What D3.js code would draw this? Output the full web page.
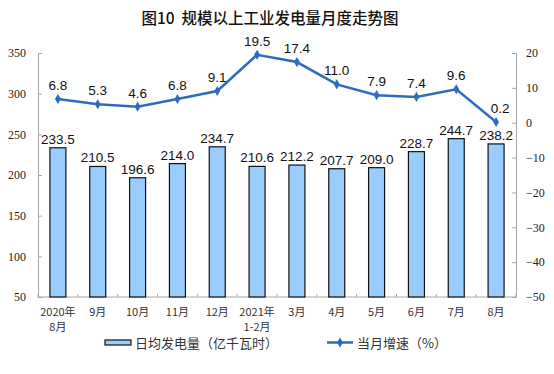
<!DOCTYPE html>
<html><head><meta charset="utf-8">
<script src="https://cdn.jsdelivr.net/npm/d3@7/dist/d3.min.js"></script>
<style>body{margin:0;background:#fff}svg{display:block}</style>
</head><body>
<svg id="c" width="554" height="374"></svg>
<script>
const categories = [["2020年","8月"],["9月"],["10月"],["11月"],["12月"],["2021年","1-2月"],["3月"],["4月"],["5月"],["6月"],["7月"],["8月"]];
const dailyOutput = [233.5,210.5,196.6,214.0,234.7,210.6,212.2,207.7,209.0,228.7,244.7,238.2];
const growth = [6.8,5.3,4.6,6.8,9.1,19.5,17.4,11.0,7.9,7.4,9.6,0.2];
const leftTicks = [50,100,150,200,250,300,350];
const rightTicks = [-50,-40,-30,-20,-10,0,10,20];
const title = "图10  规模以上工业发电量月度走势图";
const legendBar = "日均发电量（亿千瓦时）";
const legendLine = "当月增速（%）";

const svg = d3.select("#c");
const L = 38, R = 516, T = 53, B = 297;
const cjk = "'Noto Sans CJK SC', sans-serif";
const axisColor = "#a6a6a6";
const lineColor = "#2b6cc0";
const barFill = "#99ccff";

const x = d3.scaleBand().domain(d3.range(categories.length)).range([L, R]);
const yL = d3.scaleLinear().domain([50, 350]).range([B, T]);
const yR = d3.scaleLinear().domain([-50, 20]).range([B, T]);

svg.append("text").attr("x", 270).attr("y", 24).attr("text-anchor", "middle")
  .style("white-space", "pre")
  .attr("font-family", cjk).attr("font-size", 15.5).attr("font-weight", 500).attr("fill", "#111").text(title);

// left axis
const gl = svg.append("g").attr("transform", `translate(${L},0)`)
  .call(d3.axisLeft(yL).tickValues(leftTicks).tickSize(-4).tickPadding(12));
gl.select(".domain").attr("stroke", axisColor);
gl.selectAll(".tick line").attr("stroke", axisColor);
gl.selectAll(".tick text").attr("font-family", "'Liberation Serif', serif").attr("font-size", 12).attr("fill", "#222");

// right axis
const gr = svg.append("g").attr("transform", `translate(${R},0)`)
  .call(d3.axisRight(yR).tickValues(rightTicks).tickSize(-4).tickPadding(10));
gr.select(".domain").attr("stroke", axisColor);
gr.selectAll(".tick line").attr("stroke", axisColor);
gr.selectAll(".tick text").attr("font-family", "'Liberation Serif', serif").attr("font-size", 12).attr("fill", "#222");

// bottom axis
svg.append("line").attr("x1", L).attr("x2", R).attr("y1", B).attr("y2", B).attr("stroke", axisColor);
svg.selectAll(".xt").data(d3.range(categories.length + 1)).join("line")
  .attr("x1", i => L + i * x.step()).attr("x2", i => L + i * x.step())
  .attr("y1", B).attr("y2", B - 3).attr("stroke", axisColor);

// category labels
const cl = svg.selectAll(".cl").data(categories).join("text")
  .attr("text-anchor", "middle").attr("font-family", cjk).attr("font-size", 11).attr("fill", "#333");
cl.each(function(d, i) {
  const t = d3.select(this);
  d.forEach((s, k) => t.append("tspan").attr("x", x(i) + x.bandwidth() / 2).attr("y", 316 + k * 15).text(s));
});

// bars
const bw = 16;
svg.selectAll(".bar").data(dailyOutput).join("rect")
  .attr("x", (d, i) => x(i) + x.bandwidth() / 2 - bw / 2).attr("width", bw)
  .attr("y", d => yL(d)).attr("height", d => B - yL(d))
  .attr("fill", barFill).attr("stroke", "#111").attr("stroke-width", 1.2);
svg.selectAll(".bl").data(dailyOutput).join("text")
  .attr("x", (d, i) => x(i) + x.bandwidth() / 2).attr("y", d => yL(d) - 4)
  .attr("text-anchor", "middle").attr("font-family", "'Liberation Sans', Arial, sans-serif")
  .attr("font-size", 13.5).attr("fill", "#111").text(d => d.toFixed(1));

// line
const line = d3.line().x((d, i) => x(i) + x.bandwidth() / 2).y(d => yR(d));
svg.append("path").datum(growth).attr("d", line).attr("fill", "none").attr("stroke", lineColor).attr("stroke-width", 2.5);
const diamond = d3.symbol().type(d3.symbolDiamond).size(30);
svg.selectAll(".pt").data(growth).join("path")
  .attr("transform", (d, i) => `translate(${x(i) + x.bandwidth() / 2},${yR(d)})`)
  .attr("d", diamond).attr("fill", lineColor);
svg.selectAll(".pl").data(growth).join("text")
  .attr("x", (d, i) => x(i) + x.bandwidth() / 2 + (i === growth.length - 1 ? 4 : 0))
  .attr("y", d => yR(d) - 9)
  .attr("text-anchor", "middle").attr("font-family", "'Liberation Sans', Arial, sans-serif")
  .attr("font-size", 13.5).attr("fill", "#111").text(d => d.toFixed(1));

// legend
svg.append("rect").attr("x", 105).attr("y", 340).attr("width", 26).attr("height", 5)
  .attr("fill", barFill).attr("stroke", "#111").attr("stroke-width", 1.2);
svg.append("text").attr("x", 135).attr("y", 347.5).attr("font-family", cjk).attr("font-size", 13).attr("fill", "#333").text(legendBar);
svg.append("line").attr("x1", 327).attr("x2", 353).attr("y1", 342.5).attr("y2", 342.5).attr("stroke", lineColor).attr("stroke-width", 2.5);
svg.append("path").attr("transform", "translate(340,342.5)").attr("d", diamond).attr("fill", lineColor);
svg.append("text").attr("x", 357).attr("y", 347.5).attr("font-family", cjk).attr("font-size", 13).attr("fill", "#333").text(legendLine);
</script>
</body></html>
